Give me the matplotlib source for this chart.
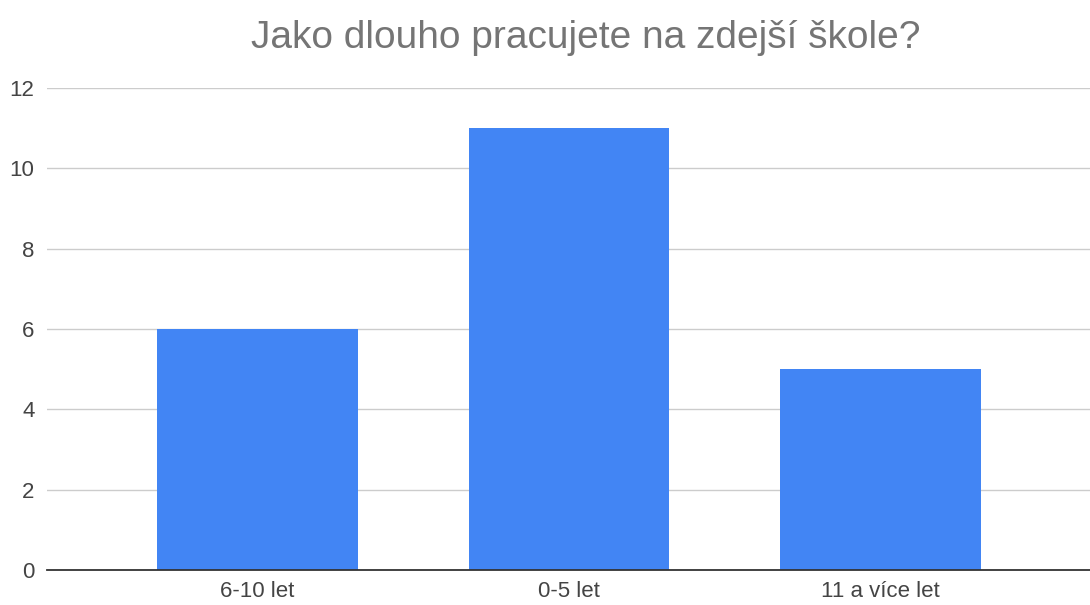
import numpy as np
from matplotlib import pyplot as plt

plt.rcParams['font.family'] = ['Liberation Sans', 'DejaVu Sans']

categories = ["6-10 let", "0-5 let", "11 a více let"]
values = [6, 11, 5]
y_ticks = [0, 2, 4, 6, 8, 10, 12]

fig = plt.figure(figsize=(10.9, 6.05), dpi=100)
ax = fig.add_axes([0.0431, 0.0579, 0.9569, 0.7966])

x = np.arange(len(categories))
ax.bar(x, values, width=0.645, color='#4285F4', zorder=3)

ax.set_xlim(-0.676, 2.673)
ax.set_ylim(0, 12)
ax.set_yticks(y_ticks)
ax.set_xticks(x)
ax.set_xticklabels(categories)
ax.grid(axis='y', color='#cccccc', lw=1, zorder=0)

for s in ['top', 'right', 'left']:
    ax.spines[s].set_visible(False)
ax.spines['bottom'].set_color('#333333')
ax.spines['bottom'].set_linewidth(1.3)
ax.spines['bottom'].set_zorder(4)
ax.tick_params(length=0, labelsize=16, labelcolor='#444444')
ax.tick_params(axis='y', pad=9)
ax.tick_params(axis='x', pad=8)

fig.text(0.537, 0.937, "Jako dlouho pracujete na zdejší škole?", ha='center', va='center',
         fontsize=28, color='#757575')

fig.savefig('out.png', dpi=100)
